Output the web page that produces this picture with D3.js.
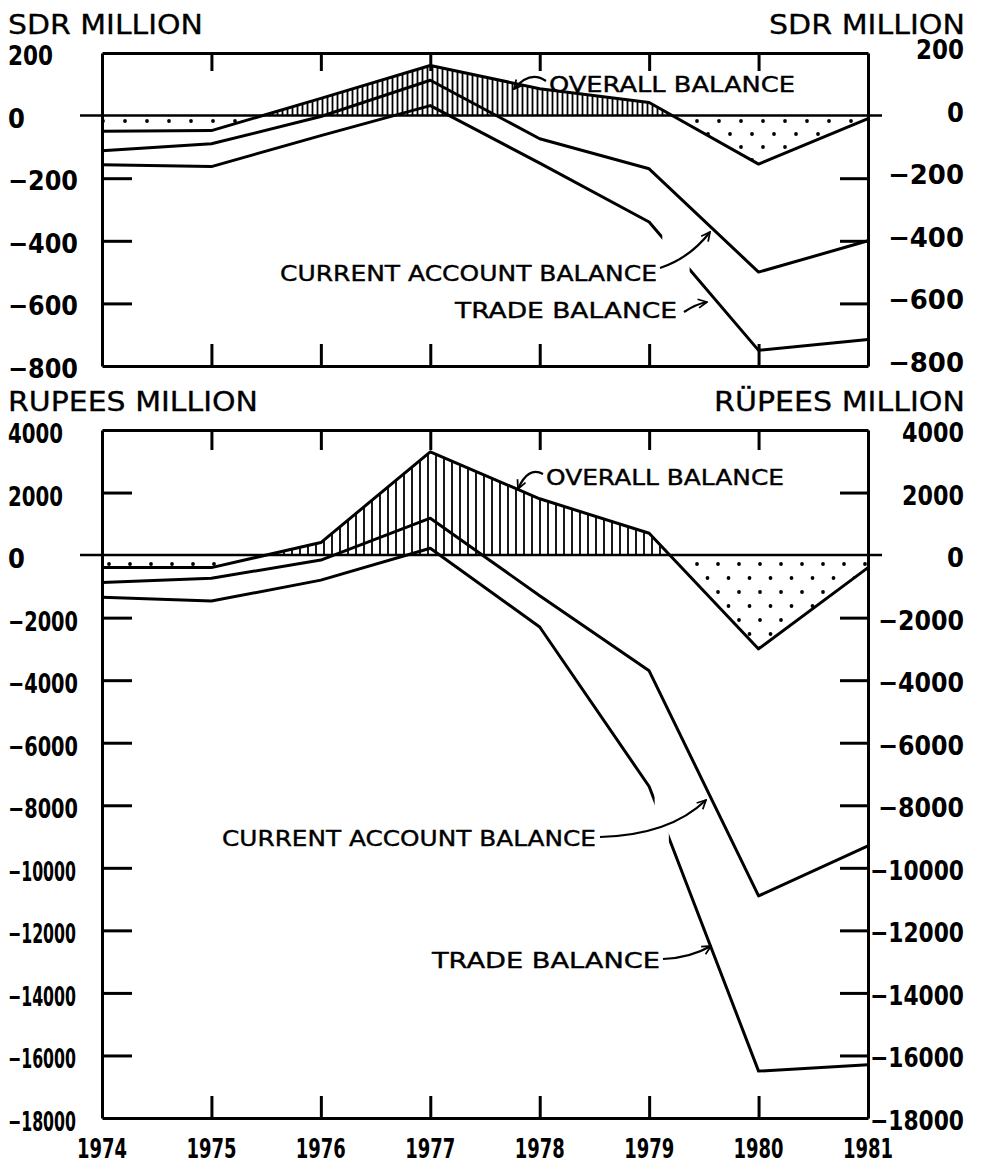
<!DOCTYPE html>
<html>
<head>
<meta charset="utf-8">
<script src="https://cdn.jsdelivr.net/npm/d3@7"></script>
<style>
body { margin: 0; background: #fff; }
svg text { font-family: "DejaVu Sans", sans-serif; fill: #000; }
svg text.num { font-family: "DejaVu Sans Condensed", "DejaVu Sans", sans-serif; font-stretch: condensed; }
</style>
</head>
<body>
<div id="chart"></div>
<script>
// data
var years = [1974, 1975, 1976, 1977, 1978, 1979, 1980, 1981];

// SDR million
var sdrOverall = [-50, -48, 55, 160, 86, 42, -155, -10];
var sdrCurrent = [-112, -90, -3, 113, -74, -170, -500, -400];
var sdrTrade = [-157, -163, -64, 32, -152, -340, -750, -715];
var sdrTicks = [200, 0, -200, -400, -600, -800];

// Rupees million
var rsOverall = [-400, -400, 400, 3300, 1800, 700, -3000, -400];
var rsCurrent = [-880, -740, -160, 1180, -1300, -3700, -10900, -9300];
var rsTrade = [-1350, -1470, -800, 220, -2300, -7400, -16500, -16300];
var rsTicks = [4000, 2000, 0, -2000, -4000, -6000, -8000, -10000, -12000, -14000, -16000, -18000];

var svgWidth = 981;
var svgHeight = 1167;

var svg = d3.select("#chart")
  .append("svg")
  .attr("width", svgWidth)
  .attr("height", svgHeight);

var defs = svg.append("defs");

// fill patterns
function hatch(id, step) {
  var p = defs.append("pattern").attr("id", id)
    .attr("patternUnits", "userSpaceOnUse")
    .attr("width", step).attr("height", 10);
  p.append("line").attr("x1", step / 2).attr("x2", step / 2)
    .attr("y1", 0).attr("y2", 10)
    .attr("stroke", "#000").attr("stroke-width", 1.8);
}
hatch("hatchTop", 5);
hatch("hatchBot", 8);

function dots(id, w, h) {
  var p = defs.append("pattern").attr("id", id)
    .attr("patternUnits", "userSpaceOnUse")
    .attr("width", w).attr("height", h);
  p.append("circle").attr("cx", 4).attr("cy", 4).attr("r", 1.9).attr("fill", "#000");
  p.append("circle").attr("cx", 4 + w / 2).attr("cy", 4 + h / 2).attr("r", 1.9).attr("fill", "#000");
}
dots("dotsTop", 22, 26);
dots("dotsBot", 21, 28);

defs.append("marker").attr("id", "arrow")
  .attr("viewBox", "0 0 10 10").attr("refX", 9).attr("refY", 5)
  .attr("markerWidth", 5).attr("markerHeight", 5)
  .attr("orient", "auto")
  .append("path").attr("d", "M1,1 L9,5 L1,9")
  .attr("fill", "none").attr("stroke", "#000").attr("stroke-width", 1.6);

var x = d3.scaleLinear().domain([1974, 1981]).range([102, 868]);

function txt(g, s, px, py, opts) {
  var t = g.append("text").attr("x", px).attr("y", py).text(s)
    .attr("font-size", opts.size)
    .attr("text-anchor", opts.anchor || "start");
  if (opts.cls) t.attr("class", opts.cls);
  if (opts.weight) t.attr("font-weight", opts.weight);
  if (opts.len) t.attr("textLength", opts.len).attr("lengthAdjust", "spacingAndGlyphs");
  if (opts.stroke) t.attr("stroke", "#000").attr("stroke-width", opts.stroke);
  return t;
}

function arrow(g, pts) {
  var p = d3.path();
  p.moveTo(pts[0][0], pts[0][1]);
  p.quadraticCurveTo(pts[1][0], pts[1][1], pts[2][0], pts[2][1]);
  g.append("path").attr("d", p.toString())
    .attr("fill", "none").attr("stroke", "#000").attr("stroke-width", 2.2)
    .attr("marker-end", "url(#arrow)");
}

function fmt(v) { return v < 0 ? "\u2212" + Math.abs(v) : String(v); }

function drawPanel(cfg) {
  var y = cfg.y;
  var g = svg.append("g");
  var top = y.range()[1], bot = y.range()[0];
  var inner = cfg.ticks.filter(function(t) { return t !== 0 && t !== y.domain()[0] && t !== y.domain()[1]; });

  // overall balance fill
  var area = d3.area()
    .x(function(d, i) { return x(years[i]); })
    .y0(y(0))
    .y1(function(d) { return y(d); });

  var id = cfg.id;
  defs.append("clipPath").attr("id", id + "Pos").append("rect")
    .attr("x", 0).attr("y", top).attr("width", svgWidth).attr("height", y(0) - top);
  defs.append("clipPath").attr("id", id + "Neg").append("rect")
    .attr("x", 0).attr("y", y(0)).attr("width", svgWidth).attr("height", bot - y(0));

  g.append("path").datum(cfg.overall).attr("d", area)
    .attr("fill", "url(#" + cfg.hatch + ")").attr("clip-path", "url(#" + id + "Pos)");
  g.append("path").datum(cfg.overall).attr("d", area)
    .attr("fill", "url(#" + cfg.dots + ")").attr("clip-path", "url(#" + id + "Neg)");

  // axes box + ticks
  var axStyle = function(sel) {
    sel.selectAll("path,line").attr("stroke", "#000").attr("stroke-width", 3);
  };
  g.append("g").attr("transform", "translate(" + x(1974) + ",0)")
    .call(d3.axisRight(y).tickValues(inner).tickSize(30).tickSizeOuter(0).tickFormat(""))
    .call(axStyle);
  g.append("g").attr("transform", "translate(" + x(1981) + ",0)")
    .call(d3.axisLeft(y).tickValues(inner).tickSize(28).tickSizeOuter(0).tickFormat(""))
    .call(axStyle);
  g.append("g").attr("transform", "translate(0," + top + ")")
    .call(d3.axisBottom(x).tickValues(years.slice(1, 7)).tickSize(cfg.topTick).tickSizeOuter(0).tickFormat(""))
    .call(axStyle);
  g.append("g").attr("transform", "translate(0," + bot + ")")
    .call(d3.axisTop(x).tickValues(years.slice(1, 7)).tickSize(22).tickSizeOuter(0).tickFormat(""))
    .call(axStyle);

  // zero line
  g.append("line").attr("x1", x(1974) - 22).attr("x2", x(1981) + 14)
    .attr("y1", y(0)).attr("y2", y(0))
    .attr("stroke", "#000").attr("stroke-width", 2.5);

  var line = d3.line().x(function(d, i) { return x(years[i]); }).y(function(d) { return y(d); });

  defs.append("clipPath").attr("id", id + "Gap").selectAll("rect")
    .data([[0, x(cfg.gap[0])], [x(cfg.gap[1]), svgWidth]]).enter().append("rect")
    .attr("x", function(d) { return d[0]; }).attr("width", function(d) { return d[1] - d[0]; })
    .attr("y", 0).attr("height", svgHeight);

  [cfg.overall, cfg.current].forEach(function(s) {
    g.append("path").datum(s).attr("d", line)
      .attr("fill", "none").attr("stroke", "#000").attr("stroke-width", 3)
      .attr("stroke-linejoin", "round");
  });
  g.append("path").datum(cfg.trade).attr("d", line)
    .attr("fill", "none").attr("stroke", "#000").attr("stroke-width", 3)
    .attr("stroke-linejoin", "round").attr("clip-path", "url(#" + id + "Gap)");

  // tick labels
  cfg.ticks.forEach(function(t) {
    var s = fmt(t);
    txt(g, s, 8, y(t) + cfg.leftDy, { size: 27, weight: "bold", cls: "num", len: cfg.lenL(s) });
    txt(g, s, 964, y(t) + cfg.rightDy, { size: 27, weight: "bold", cls: "num", anchor: "end", len: cfg.lenR(s) });
  });

  // units
  txt(g, cfg.unitL, 8, top - 19, { size: 26, len: cfg.unitLenL, stroke: 0.3 });
  txt(g, cfg.unitR, 965, top - 19, { size: 26, anchor: "end", len: cfg.unitLenR, stroke: 0.3 });

  // labels
  cfg.labels.forEach(function(l) {
    txt(g, l.text, l.x, l.y, { size: 22, len: l.len, stroke: 0.4 });
    arrow(g, l.arrow);
  });
  return g;
}

drawPanel({
  id: "sdr",
  y: d3.scaleLinear().domain([-800, 200]).range([366, 53]),
  ticks: sdrTicks,
  overall: sdrOverall, current: sdrCurrent, trade: sdrTrade,
  hatch: "hatchTop", dots: "dotsTop",
  topTick: 18,
  gap: [1979.12, 1979.37],
  leftDy: 12, rightDy: 6,
  lenL: function(s) { return s.length === 1 ? null : s.length === 3 ? 45 : 70; },
  lenR: function(s) { return s.length === 1 ? null : s.length === 3 ? 48 : 76; },
  unitL: "SDR  MILLION", unitLenL: 195,
  unitR: "SDR MILLION", unitLenR: 196,
  labels: [
    { text: "OVERALL  BALANCE", x: 549, y: 92, len: 246, arrow: [[546, 81], [530, 70], [514, 89]] },
    { text: "CURRENT ACCOUNT BALANCE", x: 280, y: 281, len: 377, arrow: [[660, 268], [690, 258], [710, 232]] },
    { text: "TRADE BALANCE", x: 455, y: 318, len: 222, arrow: [[684, 312], [696, 304], [707, 302]] }
  ]
});

drawPanel({
  id: "rs",
  y: d3.scaleLinear().domain([-18000, 4000]).range([1118, 430]),
  ticks: rsTicks,
  overall: rsOverall, current: rsCurrent, trade: rsTrade,
  hatch: "hatchBot", dots: "dotsBot",
  topTick: 20,
  gap: [1979.05, 1979.18],
  leftDy: 13, rightDy: 12,
  lenL: function(s) { return s.length === 1 ? null : s.length === 4 ? 55 : s.length === 5 ? 70 : 68; },
  lenR: function(s) { return s.length === 1 ? null : s.length === 4 ? 62 : s.length === 5 ? 86 : 94; },
  unitL: "RUPEES  MILLION", unitLenL: 250,
  unitR: "R\u00dcPEES MILLION", unitLenR: 251,
  labels: [
    { text: "OVERALL  BALANCE", x: 546, y: 485, len: 238, arrow: [[543, 474], [528, 466], [518, 489]] },
    { text: "CURRENT ACCOUNT  BALANCE", x: 222, y: 846, len: 374, arrow: [[600, 837], [670, 835], [706, 800]] },
    { text: "TRADE  BALANCE", x: 432, y: 968, len: 228, arrow: [[663, 959], [690, 958], [711, 946]] }
  ]
});

// year labels under bottom axis
svg.append("g").selectAll("text").data(years).enter().append("text")
  .attr("class", "num")
  .attr("x", function(d) { return x(d); })
  .attr("y", 1158)
  .attr("text-anchor", "middle")
  .attr("font-size", 27)
  .attr("font-weight", "bold")
  .attr("textLength", 50)
  .attr("lengthAdjust", "spacingAndGlyphs")
  .text(function(d) { return d; });
</script>
</body>
</html>
